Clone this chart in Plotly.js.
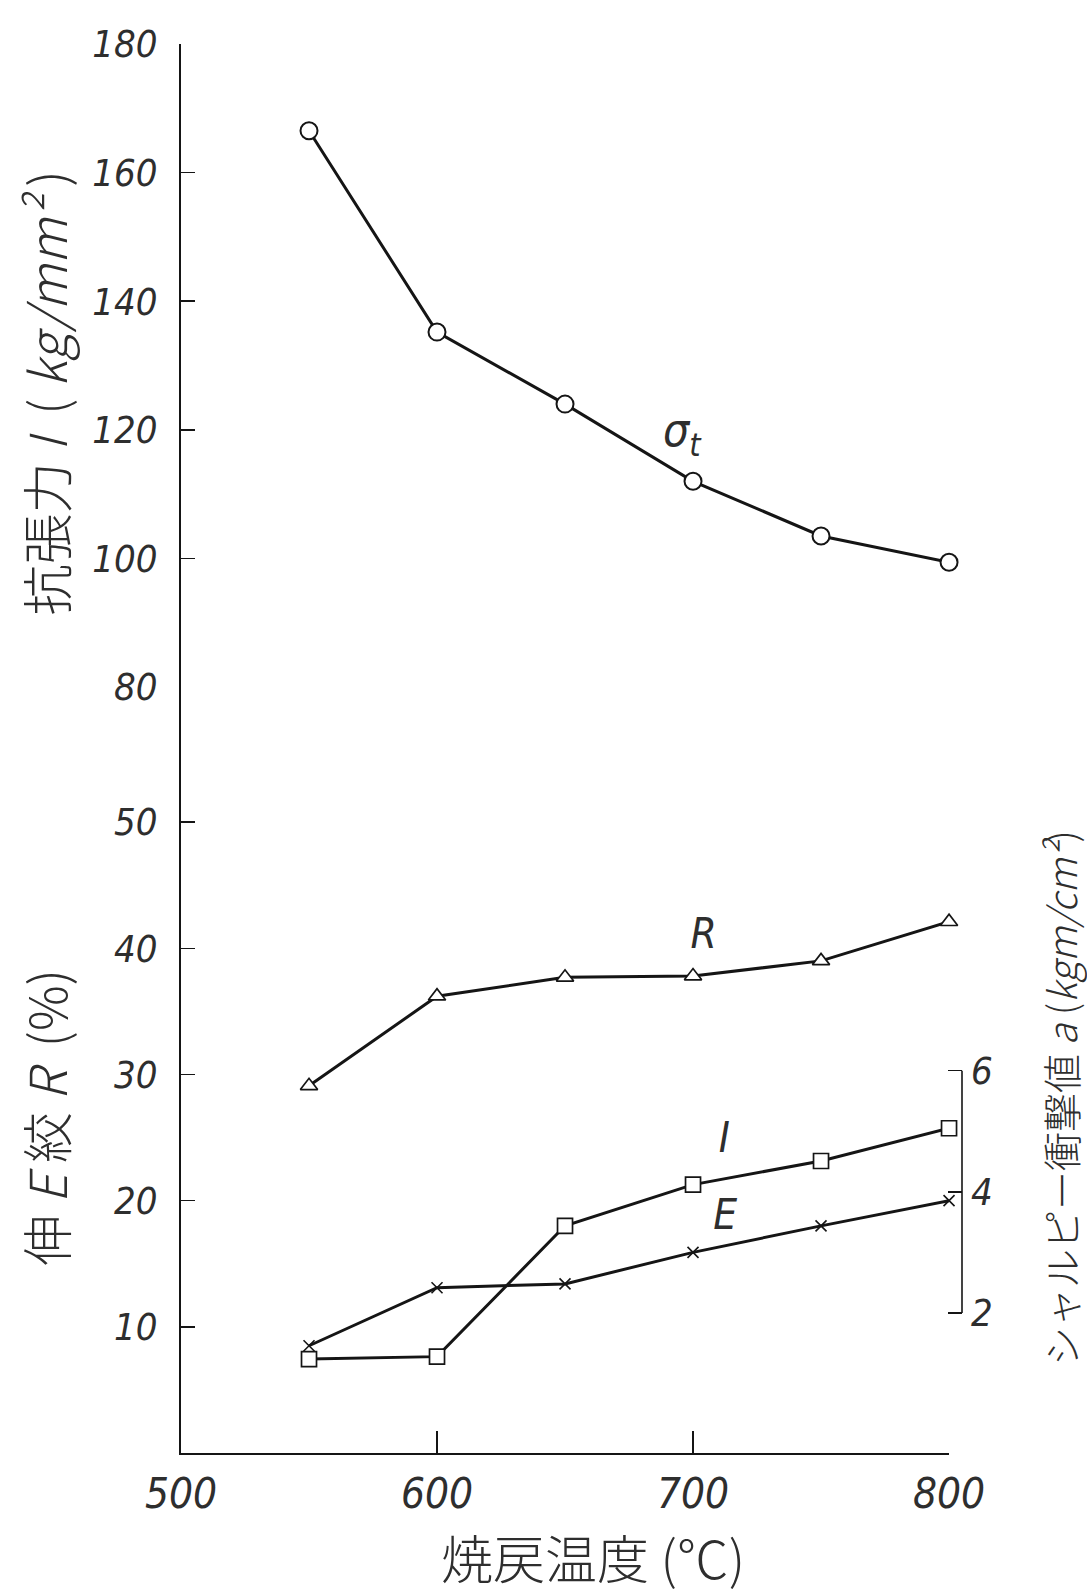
<!DOCTYPE html>
<html><head><meta charset="utf-8">
<script src="https://cdn.plot.ly/plotly-3.0.1.min.js"></script>
<style>
html,body{margin:0;padding:0;background:#fff}
#chart{width:1087px;height:1596px}
#chart svg text{font-stretch:condensed}
</style>
</head><body><div id="chart"></div>
<script>
// Data
const temps = [550, 600, 650, 700, 750, 800];             // 焼戻温度 (℃)
const tensile = [166.5, 135.2, 124.0, 112.0, 103.5, 99.4]; // σt (kg/mm²)
const reduction = [29.1, 36.2, 37.7, 37.8, 39.0, 42.1];    // R (%)
const elongation = [8.5, 13.1, 13.4, 15.9, 18.0, 20.0];    // E (%)
const impact = [1.24, 1.28, 3.44, 4.12, 4.51, 5.05];       // I (kgm/cm²)
const xTicks = [500, 600, 700, 800];
const yTopTicks = [80, 100, 120, 140, 160, 180];
const yLowTicks = [10, 20, 30, 40, 50];
const yRightTicks = [2, 4, 6];

const INK = '#151515';
const TXT = '#2e2e2e';
const NUMFONT = 'DejaVu Sans, sans-serif';
const CJK = 'Noto Sans CJK JP, Noto Sans, sans-serif';

const lineStyle = {color: INK, width: 3};
const traces = [
  {x: temps, y: tensile, xaxis: 'x', yaxis: 'y', mode: 'lines+markers', name: 'σt', cliponaxis: false,
   line: lineStyle, marker: {symbol: 'circle', size: 17, color: '#fff', line: {color: INK, width: 2}}},
  {x: temps, y: reduction, xaxis: 'x', yaxis: 'y2', mode: 'lines+markers', name: 'R', cliponaxis: false,
   line: lineStyle, marker: {symbol: 'triangle-up', size: 15, color: '#fff', line: {color: INK, width: 1.7}}},
  {x: temps, y: elongation, xaxis: 'x', yaxis: 'y2', mode: 'lines+markers', name: 'E', cliponaxis: false,
   line: lineStyle, marker: {symbol: 'x-thin-open', size: 11, color: INK, line: {color: INK, width: 1.6}}},
  {x: temps, y: impact, xaxis: 'x', yaxis: 'y3', mode: 'lines+markers', name: 'I', cliponaxis: false,
   line: lineStyle, marker: {symbol: 'square', size: 15, color: '#fff', line: {color: INK, width: 1.7}}}
];

const tickFont = {family: NUMFONT, size: 38, color: TXT, style: 'italic'};
const yCommon = {
  showline: true, linecolor: INK, linewidth: 2, ticks: 'inside', ticklen: 14, tickwidth: 1.5,
  tickcolor: INK, showgrid: false, zeroline: false, tickmode: 'array', tickfont: tickFont,
  ticklabelstandoff: 14, anchor: 'x'
};

const layout = {
  width: 1087, height: 1596,
  margin: {l: 181, r: 125, t: 44, b: 143},
  paper_bgcolor: '#fff', plot_bgcolor: 'rgba(0,0,0,0)',
  showlegend: false,
  xaxis: {domain: [0, 0.9834], range: [500, 800], anchor: 'y2', showline: true, linecolor: INK,
    linewidth: 2, ticks: 'inside', ticklen: 22, tickwidth: 1.5, tickcolor: INK, tickmode: 'array',
    tickvals: xTicks, showgrid: false, zeroline: false,
    tickfont: {family: NUMFONT, size: 42, color: TXT, style: 'italic'}, ticklabelstandoff: 3},
  yaxis: Object.assign({}, yCommon, {domain: [0.5436, 1], range: [80, 180], tickvals: yTopTicks}),
  yaxis2: Object.assign({}, yCommon, {domain: [0, 0.5436], range: [0, 60.7], tickvals: yLowTicks}),
  yaxis3: {domain: [0, 1], range: [-0.311, 22.95], anchor: 'free', position: 1, side: 'right',
    showline: false, ticks: 'inside', ticklen: 14, tickwidth: 1.5, tickcolor: INK, tickmode: 'array',
    tickvals: yRightTicks, showgrid: false, zeroline: false, tickfont: tickFont, ticklabelstandoff: 8},
  shapes: [
    {type: 'line', xref: 'paper', x0: 1, x1: 1, yref: 'y3', y0: yRightTicks[0], y1: yRightTicks[yRightTicks.length - 1],
     line: {color: INK, width: 1.6}}
  ],
  annotations: [
    {text: '抗張力 <i>I</i>  ( <i>kg/mm²</i> )', xref: 'paper', yref: 'paper', x: -0.174, y: 0.752,
     textangle: -90, showarrow: false, xanchor: 'center', yanchor: 'middle',
     font: {family: CJK, size: 51, color: TXT, weight: 300}},
    {text: '伸 <i>E</i> 絞 <i>R</i>  (%)', xref: 'paper', yref: 'paper', x: -0.174, y: 0.238,
     textangle: -90, showarrow: false, xanchor: 'center', yanchor: 'middle',
     font: {family: CJK, size: 51, color: TXT, weight: 300}},
    {text: 'シャルピー衝撃値 <i>a</i> (<i>kgm/cm²</i>)', xref: 'paper', yref: 'paper', x: 1.1255, y: 0.252,
     textangle: -90, showarrow: false, xanchor: 'center', yanchor: 'middle',
     font: {family: CJK, size: 39, color: TXT, weight: 300}},
    {text: '焼戻温度 (℃)', xref: 'paper', yref: 'paper', x: 0.5275, y: -0.0738,
     showarrow: false, xanchor: 'center', yanchor: 'middle',
     font: {family: CJK, size: 52, color: TXT, weight: 300}},
    {text: '<i>σ<sub>t</sub></i>', xref: 'x', yref: 'y', x: 696, y: 119.5, showarrow: false,
     font: {family: NUMFONT, size: 46, color: TXT}},
    {text: '<i>R</i>', xref: 'x', yref: 'y2', x: 704, y: 41.2, showarrow: false,
     font: {family: NUMFONT, size: 42, color: TXT}},
    {text: '<i>I</i>', xref: 'x', yref: 'y2', x: 712, y: 25.0, showarrow: false,
     font: {family: NUMFONT, size: 42, color: TXT}},
    {text: '<i>E</i>', xref: 'x', yref: 'y2', x: 712.5, y: 18.9, showarrow: false,
     font: {family: NUMFONT, size: 42, color: TXT}}
  ]
};

Plotly.newPlot('chart', traces, layout, {displayModeBar: false, staticPlot: true});
</script>
</body></html>
